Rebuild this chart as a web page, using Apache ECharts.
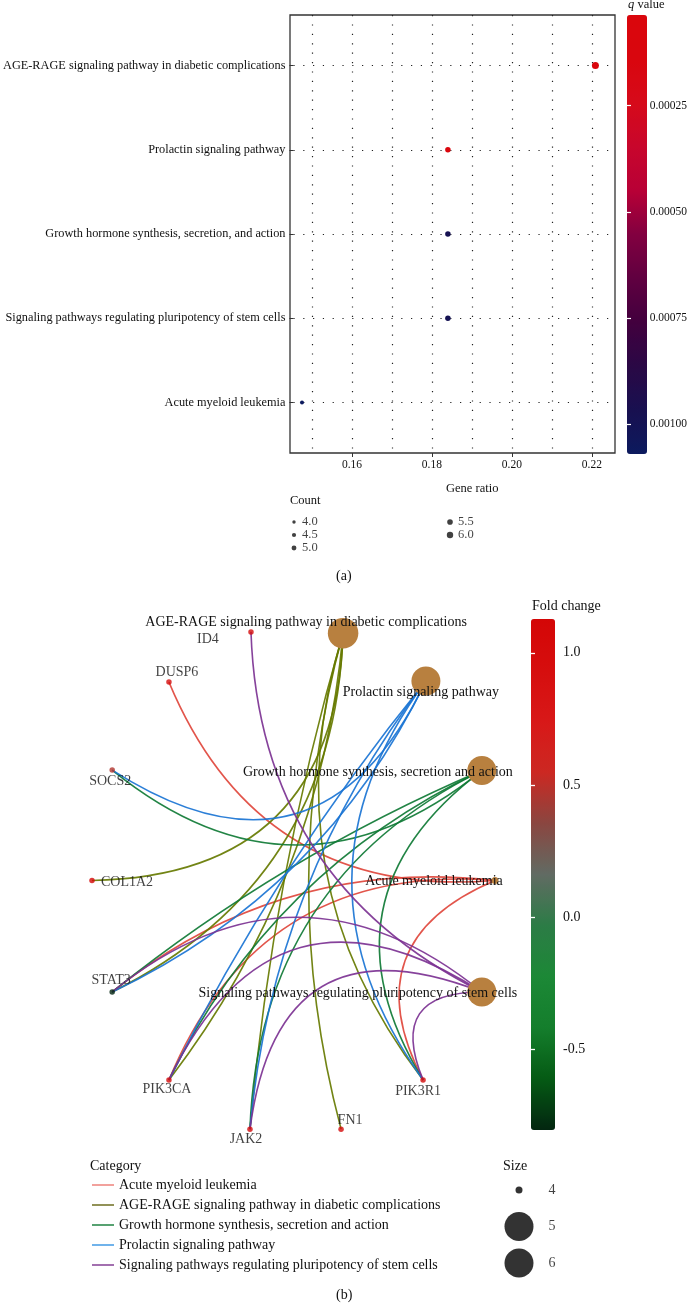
<!DOCTYPE html>
<html><head><meta charset="utf-8">
<script src="https://cdn.jsdelivr.net/npm/echarts@6/dist/echarts.min.js"></script>
<style>html,body{margin:0;padding:0;background:#fff;}#chart{width:690px;height:1308px;}</style>
</head><body><div id="chart"></div>
<script>
// ================= Panel (a) data =================
const pathways = [
  'AGE-RAGE signaling pathway in diabetic complications',
  'Prolactin signaling pathway',
  'Growth hormone synthesis, secretion, and action',
  'Signaling pathways regulating pluripotency of stem cells',
  'Acute myeloid leukemia'
];
const geneRatio = [0.2209, 0.1840, 0.1840, 0.1840, 0.1475];
const geneCount = [6, 5, 5, 5, 4];
const qValue = [0.000037, 0.00008, 0.00098, 0.00099, 0.00107];
const ratioRange = [0.1445, 0.2258];
const ratioTicks = [0.16, 0.18, 0.20, 0.22];
const ratioGrid = [0.15, 0.16, 0.17, 0.18, 0.19, 0.20, 0.21, 0.22];
const qRange = [0.000037, 0.00107];
const qTicks = [0.00025, 0.0005, 0.00075, 0.001];
const countBreaks = [4.0, 4.5, 5.0, 5.5, 6.0];

// ================= Panel (b) data =================
const netCategories = [
  'Acute myeloid leukemia',
  'AGE-RAGE signaling pathway in diabetic complications',
  'Growth hormone synthesis, secretion and action',
  'Prolactin signaling pathway',
  'Signaling pathways regulating pluripotency of stem cells'
];
const netCategorySize = [4, 6, 5, 5, 5];
const genes = ['ID4', 'DUSP6', 'SOCS2', 'COL1A2', 'STAT3', 'PIK3CA', 'JAK2', 'FN1', 'PIK3R1'];
const foldChange = [1.02, 1.00, 0.47, 1.128, -0.806, 1.00, 1.03, 1.00, 1.00];
const genesAML = ['DUSP6', 'STAT3', 'PIK3CA', 'PIK3R1'];
const genesAGE = ['COL1A2', 'STAT3', 'PIK3CA', 'JAK2', 'FN1', 'PIK3R1'];
const genesGH = ['SOCS2', 'STAT3', 'PIK3CA', 'JAK2', 'PIK3R1'];
const genesPRL = ['SOCS2', 'STAT3', 'PIK3CA', 'JAK2', 'PIK3R1'];
const genesStem = ['ID4', 'STAT3', 'PIK3CA', 'JAK2', 'PIK3R1'];
// circular layout coordinates (layout units)
const layoutNames = [
  'Acute myeloid leukemia',
  'Growth hormone synthesis, secretion and action',
  'Prolactin signaling pathway',
  'AGE-RAGE signaling pathway in diabetic complications',
  'ID4', 'DUSP6', 'SOCS2', 'COL1A2', 'STAT3', 'PIK3CA', 'JAK2', 'FN1', 'PIK3R1',
  'Signaling pathways regulating pluripotency of stem cells'
];
const layoutX = [0.995, 0.930, 0.653, 0.243, -0.213, -0.619, -0.900, -1.000, -0.900, -0.619, -0.218, 0.233, 0.639, 0.930];
const layoutY = [0.000, 0.431, 0.782, 0.970, 0.975, 0.778, 0.433, 0.000, -0.437, -0.782, -0.975, -0.975, -0.782, -0.437];
const fcRange = [-0.806, 1.128];
const fcTicks = [-0.5, 0.0, 0.5, 1.0];
const sizeBreaks = [4, 5, 6];

// ================= styles =================
const SERIF = "'Liberation Serif', 'DejaVu Serif', serif";
const TXT = '#111111';
const qColors = ['#da060c', '#d9060e', '#d60a1a', '#c8062c', '#b80036', '#820040', '#600040', '#42003e', '#2a0845', '#181050', '#0c1a5e'];
const fcColors = ['#032610', '#055a14', '#147e2c', '#1c8836', '#2c7c46', '#616b63', '#8a4640', '#cc2822', '#d81818', '#d60e0e', '#d40606'];
const edgeColors = ['#e0463c', '#667a00', '#0f7a35', '#1a74d4', '#7c3292'];
const legendColors = ['#ef8a84', '#77772e', '#2e8b4e', '#4da0e6', '#8c4c9c'];
const nodeBrown = '#b8803f';
const catLabelNudge = {
  'Acute myeloid leukemia': [-61, 1],
  'AGE-RAGE signaling pathway in diabetic complications': [-37, -11],
  'Growth hormone synthesis, secretion and action': [-104, 2],
  'Prolactin signaling pathway': [-5, 11],
  'Signaling pathways regulating pluripotency of stem cells': [-124, 1]
};
const geneLabelNudge = {
  ID4: [-43, 7], DUSP6: [8, -10], SOCS2: [-2, 11], COL1A2: [35, 2], STAT3: [-1, -12],
  PIK3CA: [-2, 9], JAK2: [-4, 10], FN1: [9, -9], PIK3R1: [-5, 11]
};
const GRID_NET = { left: 92, top: 625.5, width: 404, height: 510 };
const SX = GRID_NET.width / 2, SY = GRID_NET.height / 2;
// arc bend (sag / chord, in layout space) by number of layout steps between the two ends
const arcBendByStep = [0, 0.40, 0.32, 0.28, 0.23, 0.16, 0.085, 0.03];

const countSize = n => 4 + (n - 4) * 1.5;
const catNodeSize = n => (n <= 4 ? 7 : (n >= 6 ? 30.5 : 29));
const nodeIndex = name => layoutNames.indexOf(name);

// ---- links: arcs bend toward the layout centre ----
const catGeneLists = [genesAML, genesAGE, genesGH, genesPRL, genesStem];
const nNodes = layoutNames.length;
const links = [];
netCategories.forEach((cat, ci) => {
  catGeneLists[ci].forEach(g => {
    const s = nodeIndex(cat), t = nodeIndex(g);
    const du = layoutX[t] - layoutX[s], dv = layoutY[t] - layoutY[s];
    const um = (layoutX[t] + layoutX[s]) / 2, vm = (layoutY[t] + layoutY[s]) / 2;
    const L = Math.hypot(du, dv);
    let nu = -dv / L, nv = du / L;
    if (nu * (-um) + nv * (-vm) < 0) { nu = -nu; nv = -nv; }
    const steps = Math.min(Math.abs(s - t), nNodes - Math.abs(s - t));
    const sag = arcBendByStep[steps] * L;
    const O = [SX * nu * sag, -SY * nv * sag];          // screen offset of arc midpoint
    const P = [-SY * dv, -SX * du];                      // echarts perpendicular vector
    const c = 2 * (O[0] * P[0] + O[1] * P[1]) / (P[0] * P[0] + P[1] * P[1]);
    links.push({ source: cat, target: g, lineStyle: { color: edgeColors[ci], curveness: c } });
  });
});

const graphNodes = layoutNames.map((name, i) => {
  const ci = netCategories.indexOf(name);
  if (ci >= 0) {
    return {
      name, value: [layoutX[i], layoutY[i]],
      symbolSize: catNodeSize(netCategorySize[ci]),
      itemStyle: { color: nodeBrown },
      label: { show: true, position: 'inside', offset: catLabelNudge[name], color: TXT, fontSize: 14, fontFamily: SERIF, textBorderWidth: 0 }
    };
  }
  return { name, value: [layoutX[i], layoutY[i]], symbolSize: 1, itemStyle: { opacity: 0 }, label: { show: false } };
});

const geneData = genes.map((g, i) => {
  const li = nodeIndex(g);
  return { name: g, value: [layoutX[li], layoutY[li], foldChange[i]], label: { offset: geneLabelNudge[g] } };
});

const hiddenVal = (gridIndex, min, max, extra) => Object.assign({ type: 'value', gridIndex, min, max, show: false }, extra || {});

const option = {
  animation: false,
  backgroundColor: '#ffffff',
  textStyle: { fontFamily: SERIF },
  title: [
    { text: '{i|q} value', left: 628, top: -2, padding: 0, textStyle: { fontSize: 12.5, fontWeight: 'normal', color: TXT, fontFamily: SERIF, rich: { i: { fontStyle: 'italic', fontSize: 12.5, fontFamily: SERIF, color: TXT } } } },
    { text: 'Gene ratio', left: 446, top: 482, padding: 0, textStyle: { fontSize: 12.5, fontWeight: 'normal', color: TXT, fontFamily: SERIF } },
    { text: 'Count', left: 290, top: 494, padding: 0, textStyle: { fontSize: 12.5, fontWeight: 'normal', color: TXT, fontFamily: SERIF } },
    { text: '(a)', left: 336, top: 569, padding: 0, textStyle: { fontSize: 14, fontWeight: 'normal', color: TXT, fontFamily: SERIF } },
    { text: 'Fold change', left: 532, top: 599, padding: 0, textStyle: { fontSize: 14, fontWeight: 'normal', color: TXT, fontFamily: SERIF } },
    { text: 'Category', left: 90, top: 1159, padding: 0, textStyle: { fontSize: 14, fontWeight: 'normal', color: TXT, fontFamily: SERIF } },
    { text: 'Size', left: 503, top: 1159, padding: 0, textStyle: { fontSize: 14, fontWeight: 'normal', color: TXT, fontFamily: SERIF } },
    { text: '(b)', left: 336, top: 1288, padding: 0, textStyle: { fontSize: 14, fontWeight: 'normal', color: TXT, fontFamily: SERIF } }
  ],
  grid: [
    { left: 290, top: 15, width: 325, height: 438, show: true, borderColor: '#333', borderWidth: 1.3, backgroundColor: 'transparent', containLabel: false }, // 0 frame + dots
    { left: 290, top: 65.5, width: 325, height: 337, containLabel: false }, // 1 category labels / row lines
    { left: 294, top: 522, width: 156, height: 26, containLabel: false },   // 2 count legend
    { left: 627, top: 15, width: 20, height: 439, containLabel: false },    // 3 q colourbar axis
    Object.assign({ containLabel: false }, GRID_NET),                        // 4 network
    { left: 531, top: 619, width: 24, height: 511, containLabel: false },   // 5 fc colourbar axis
    { left: 519, top: 1190, width: 10, height: 73, containLabel: false }    // 6 size legend
  ],
  xAxis: [
    { type: 'value', gridIndex: 0, min: ratioRange[0], max: ratioRange[1], position: 'bottom',
      axisLine: { show: false, onZero: false }, splitLine: { show: false },
      axisTick: { show: true, length: 4, customValues: ratioTicks, lineStyle: { color: '#333' } },
      axisLabel: { customValues: ratioTicks, formatter: v => v.toFixed(2), fontSize: 11.5, color: TXT, margin: 6, fontFamily: SERIF } },
    { type: 'value', gridIndex: 0, min: ratioRange[0], max: ratioRange[1], position: 'top',
      axisLine: { show: false, onZero: false }, axisLabel: { show: false },
      axisTick: { show: false, customValues: ratioGrid },
      splitLine: { show: true, lineStyle: { color: '#222', width: 1.2, type: [1.2, 8.2] } } },
    hiddenVal(1, 0, 1),
    hiddenVal(2, 0, 1),
    hiddenVal(3, 0, 1),
    hiddenVal(4, -1, 1),
    hiddenVal(5, 0, 1),
    hiddenVal(6, 0, 1)
  ],
  yAxis: [
    hiddenVal(0, 0.4, pathways.length + 0.6, { inverse: true }),
    { type: 'category', gridIndex: 1, data: pathways, inverse: true, boundaryGap: false,
      axisLine: { show: false, onZero: false },
      axisTick: { show: true, length: 4, interval: 0, lineStyle: { color: '#333' } },
      axisLabel: { interval: 0, fontSize: 12.3, color: TXT, margin: 8, fontFamily: SERIF },
      splitLine: { show: true, interval: 0, lineStyle: { color: '#222', width: 1.2, type: [1.2, 8.6] } } },
    hiddenVal(2, 0, 2, { inverse: true }),
    { type: 'value', gridIndex: 3, min: qRange[0], max: qRange[1], inverse: true, position: 'right', z: 10,
      axisLine: { show: false }, splitLine: { show: false },
      axisTick: { show: true, inside: true, length: 4, customValues: qTicks, lineStyle: { color: '#ffffff', width: 1.2 } },
      axisLabel: { customValues: qTicks, formatter: v => v.toFixed(5), fontSize: 11.5, color: TXT, margin: 5, fontFamily: SERIF } },
    { type: 'value', gridIndex: 3, min: qRange[0], max: qRange[1], inverse: true, position: 'left', z: 10,
      axisLine: { show: false }, splitLine: { show: false }, axisLabel: { show: false },
      axisTick: { show: true, inside: true, length: 4, customValues: qTicks, lineStyle: { color: '#ffffff', width: 1.2 } } },
    hiddenVal(4, -1, 1),
    { type: 'value', gridIndex: 5, min: fcRange[0], max: fcRange[1], position: 'right', z: 10,
      axisLine: { show: false }, splitLine: { show: false },
      axisTick: { show: true, inside: true, length: 4, customValues: fcTicks, lineStyle: { color: '#ffffff', width: 1.3 } },
      axisLabel: { customValues: fcTicks, formatter: v => v.toFixed(1), fontSize: 14, color: TXT, margin: 8, fontFamily: SERIF } },
    { type: 'value', gridIndex: 5, min: fcRange[0], max: fcRange[1], position: 'left', z: 10,
      axisLine: { show: false }, splitLine: { show: false }, axisLabel: { show: false },
      axisTick: { show: true, inside: true, length: 4, customValues: fcTicks, lineStyle: { color: '#ffffff', width: 1.3 } } },
    hiddenVal(6, 0, 2, { inverse: true })
  ],
  visualMap: [
    { type: 'continuous', seriesIndex: 0, dimension: 3, min: qRange[0], max: qRange[1], inverse: true,
      orient: 'vertical', left: 627, top: 15, itemWidth: 20, itemHeight: 439, padding: 0,
      calculable: false, realtime: false, hoverLink: false, text: null, showLabel: false,
      inRange: { color: qColors } },
    { type: 'continuous', seriesIndex: 3, dimension: 2, min: fcRange[0], max: fcRange[1],
      orient: 'vertical', left: 531, top: 619, itemWidth: 24, itemHeight: 511, padding: 0,
      calculable: false, realtime: false, hoverLink: false, text: null, showLabel: false,
      inRange: { color: fcColors } }
  ],
  legend: {
    orient: 'vertical', left: 92, top: 1178, padding: 0, itemWidth: 22, itemHeight: 1.6, itemGap: 6,
    icon: 'rect', selectedMode: false,
    textStyle: { fontSize: 14, color: TXT, fontFamily: SERIF },
    data: netCategories.map((c, i) => ({ name: c, itemStyle: { color: legendColors[i] } }))
  },
  series: [
    { // 0 dot plot (row index 1..5 on the frame grid)
      type: 'scatter', xAxisIndex: 0, yAxisIndex: 0, z: 5,
      data: pathways.map((p, i) => ({ name: p, value: [geneRatio[i], i + 1, geneCount[i], qValue[i]] })),
      symbolSize: v => countSize(v[2]),
      itemStyle: { opacity: 1 }
    },
    { // 1 count legend
      type: 'scatter', xAxisIndex: 3, yAxisIndex: 2,
      data: countBreaks.map((c, i) => [Math.floor(i / 3), i % 3, c]),
      symbolSize: v => countSize(v[2]) - 0.6,
      itemStyle: { color: '#111' },
      label: { show: true, position: 'inside', align: 'left', offset: [8, 0], formatter: p => p.value[2].toFixed(1), color: TXT, fontSize: 12.5, fontFamily: SERIF }
    },
    { // 2 network
      type: 'graph', coordinateSystem: 'cartesian2d', xAxisIndex: 5, yAxisIndex: 5, layout: 'none',
      data: graphNodes, links: links, roam: false, z: 2,
      lineStyle: { width: 1.6, opacity: 0.92 },
      emphasis: { disabled: true },
      edgeSymbol: ['none', 'none']
    },
    { // 3 gene nodes
      type: 'scatter', xAxisIndex: 5, yAxisIndex: 5, z: 4,
      data: geneData, symbolSize: 5.5,
      label: { show: true, position: 'inside', formatter: '{b}', color: TXT, fontSize: 14, fontFamily: SERIF, textBorderWidth: 0 }
    },
    { // 4 size legend
      type: 'scatter', xAxisIndex: 7, yAxisIndex: 8,
      data: sizeBreaks.map((s, i) => [0, i, s]),
      symbolSize: v => catNodeSize(v[2]) - (v[2] >= 6 ? 1.5 : 0),
      itemStyle: { color: '#000' },
      label: { show: true, position: 'inside', align: 'left', offset: [29.5, 0], formatter: p => String(p.value[2]), color: TXT, fontSize: 14, fontFamily: SERIF }
    }
  ].concat(netCategories.map((c, i) => ({ type: 'line', name: c, xAxisIndex: 5, yAxisIndex: 5, data: [], color: legendColors[i] })))
};

const chart = echarts.init(document.getElementById('chart'), null, { renderer: 'canvas' });
chart.setOption(option);
</script>
</body></html>
